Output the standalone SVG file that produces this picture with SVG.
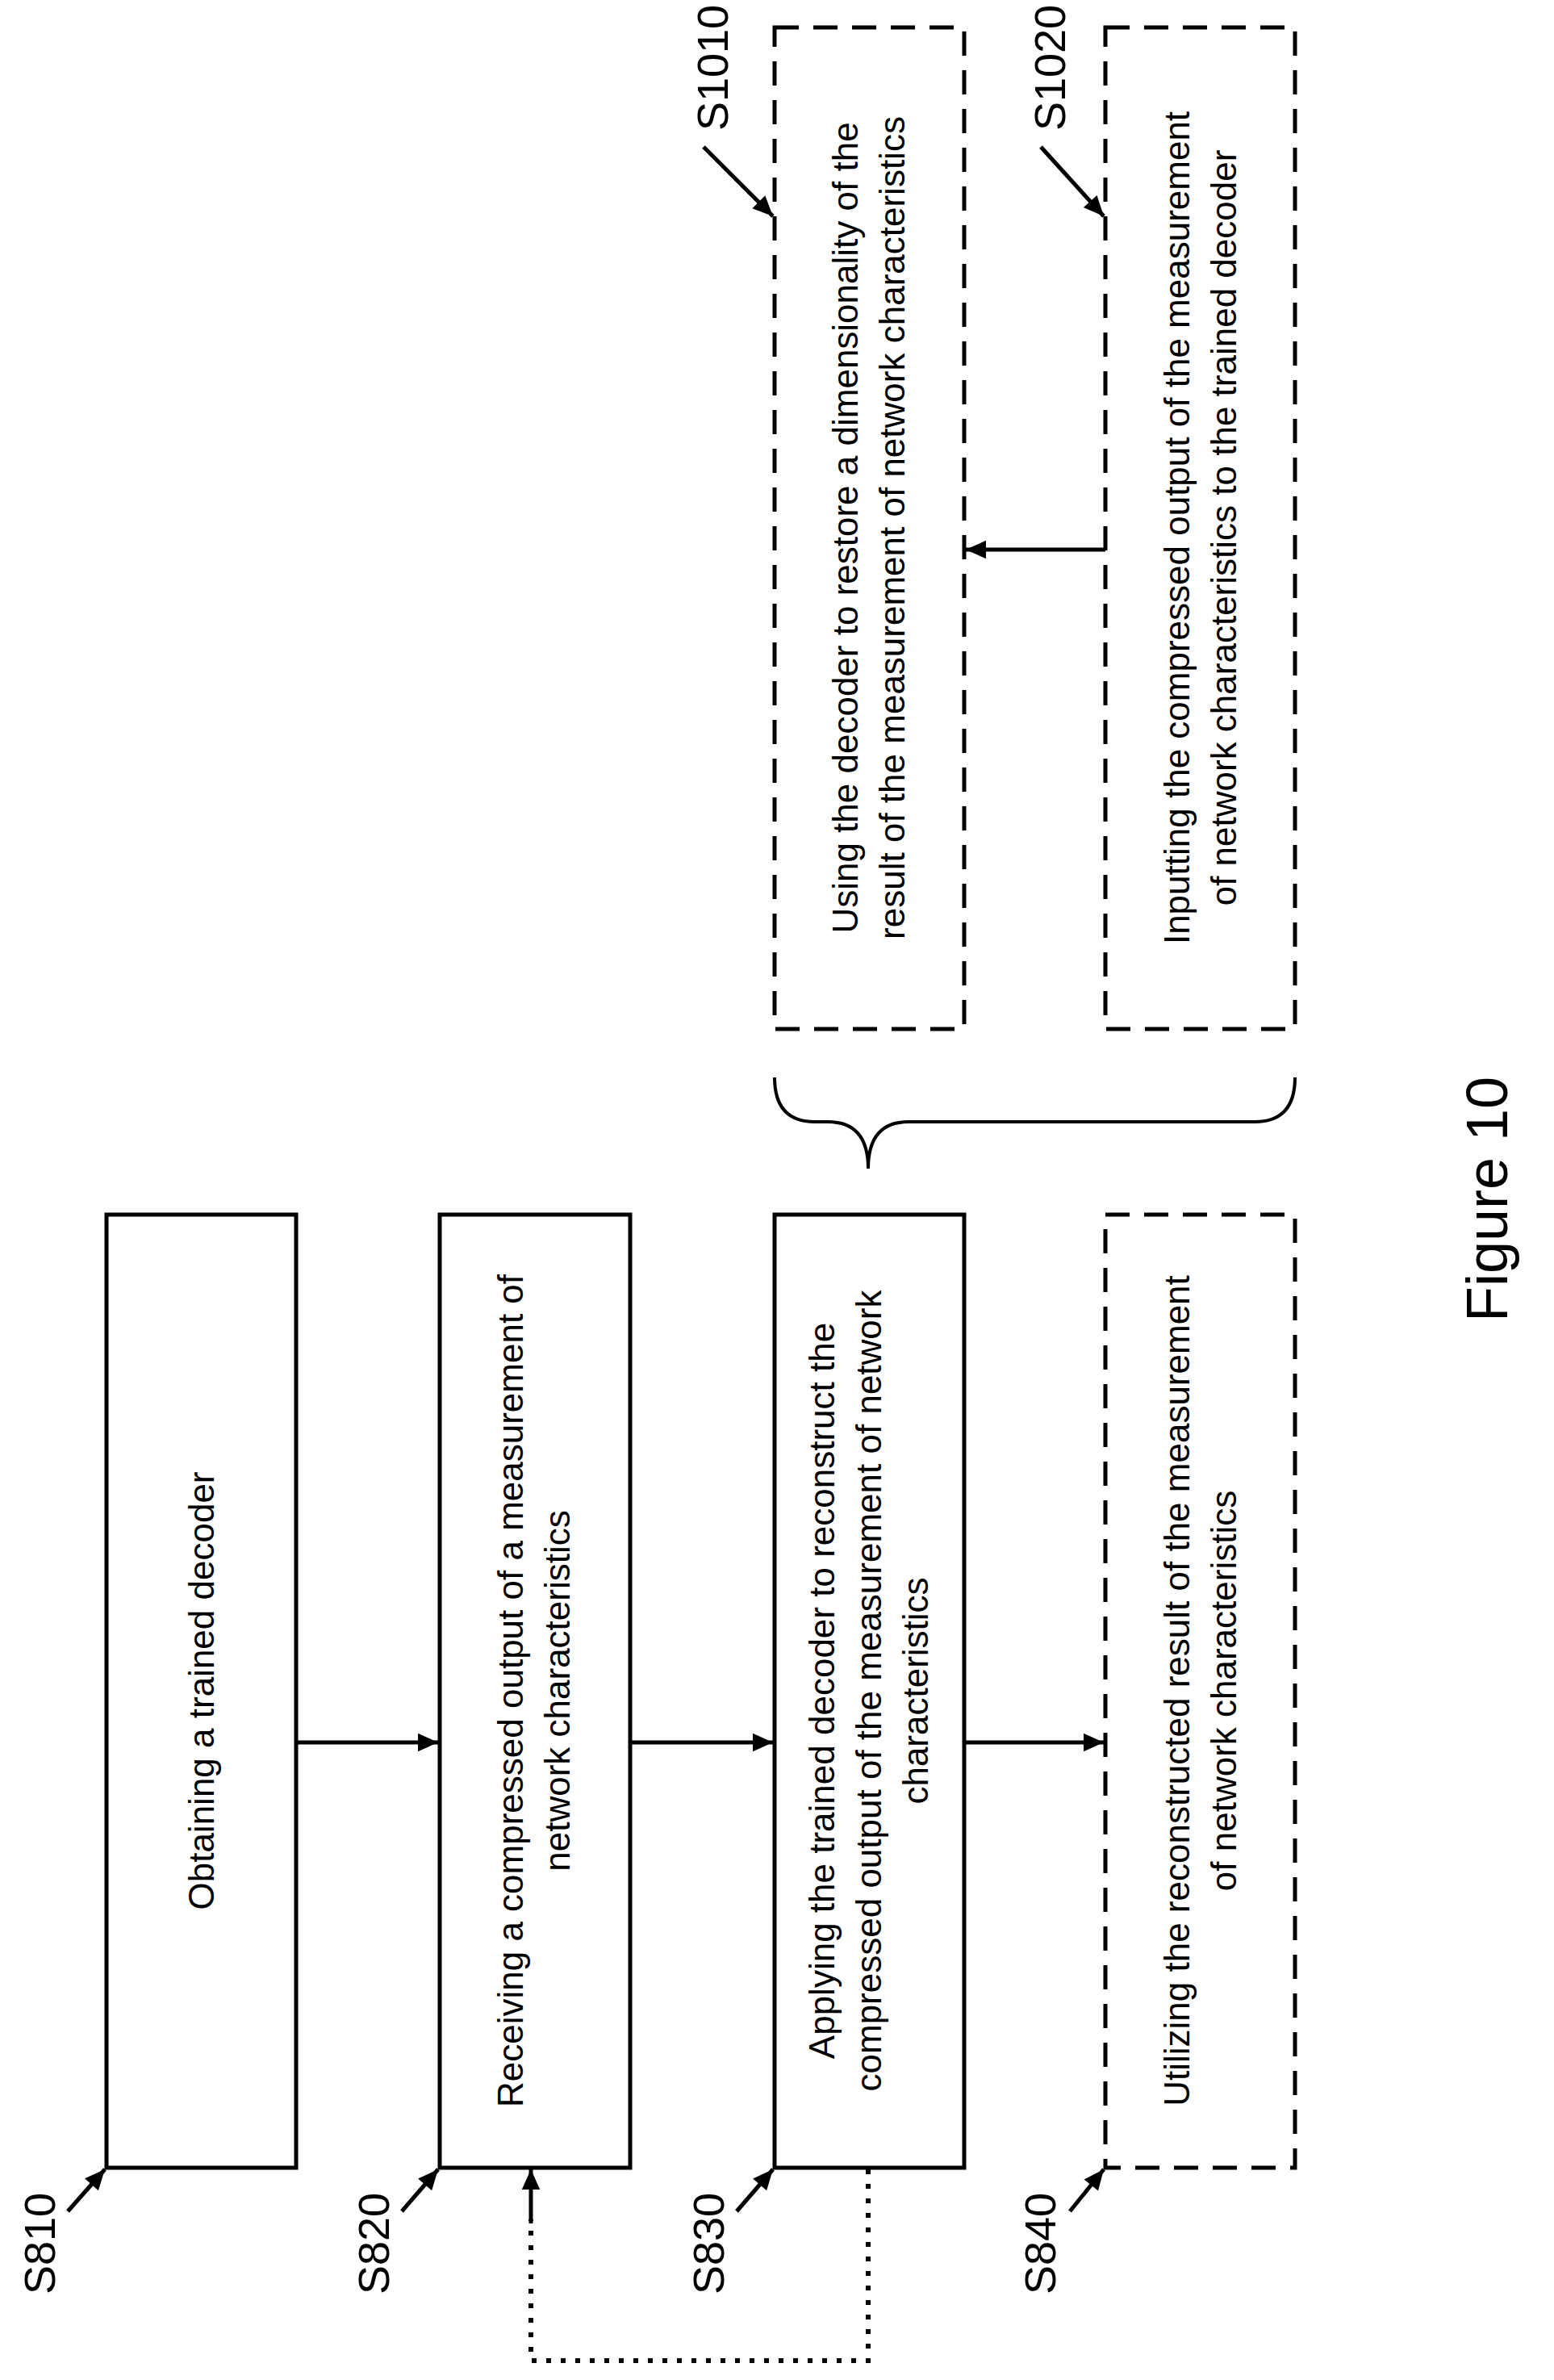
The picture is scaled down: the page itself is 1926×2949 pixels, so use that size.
<svg xmlns="http://www.w3.org/2000/svg" width="1926" height="2949" viewBox="0 0 1926 2949">
<defs>
<marker id="ah" viewBox="0 0 10 10" refX="10" refY="5" markerWidth="7" markerHeight="5" orient="auto" markerUnits="strokeWidth"><path d="M0,0.5 L10,5 L0,9.5 z" fill="#000"/></marker>
<style>
.b{fill:#fff;stroke:#000;stroke-width:5}
.d{fill:#fff;stroke:#000;stroke-width:5;stroke-dasharray:30,18}
.t{font-family:"Liberation Sans",Arial,sans-serif;font-size:44px;fill:#000;text-anchor:middle}
.s{font-size:54px}
.l{stroke:#000;stroke-width:5;fill:none;marker-end:url(#ah)}
</style>
</defs>
<g id="S810"><rect class="b" x="132" y="1505" width="235" height="1181"/>
<text class="t" transform="translate(265,2095) rotate(-90)">Obtaining a trained decoder</text></g>
<g id="S820"><rect class="b" x="545" y="1505" width="236" height="1181"/>
<text class="t" transform="translate(648,2095) rotate(-90)"><tspan x="0" y="0">Receiving a compressed output of a measurement of</tspan><tspan x="0" y="58">network characteristics</tspan></text></g>
<g id="S830"><rect class="b" x="960" y="1505" width="235" height="1181"/>
<text class="t" transform="translate(1034,2095) rotate(-90)"><tspan x="0" y="0">Applying the trained decoder to reconstruct the</tspan><tspan x="0" y="58">compressed output of the measurement of network</tspan><tspan x="0" y="116">characteristics</tspan></text></g>
<g id="S840"><rect class="d" x="1370" y="1505" width="235" height="1181"/>
<text class="t" transform="translate(1474,2095) rotate(-90)"><tspan x="0" y="0">Utilizing the reconstructed result of the measurement</tspan><tspan x="0" y="58">of network characteristics</tspan></text></g>
<g id="S1010"><rect class="d" x="960" y="34" width="235" height="1241"/>
<text class="t" transform="translate(1063,654) rotate(-90)"><tspan x="0" y="0">Using the decoder to restore a dimensionality of the</tspan><tspan x="0" y="58">result of the measurement of network characteristics</tspan></text></g>
<g id="S1020"><rect class="d" x="1370" y="34" width="235" height="1241"/>
<text class="t" transform="translate(1474,654) rotate(-90)"><tspan x="0" y="0">Inputting the compressed output of the measurement</tspan><tspan x="0" y="58">of network characteristics to the trained decoder</tspan></text></g>
<g id="labels">
<text class="t s" transform="translate(68,2780) rotate(-90)">S810</text>
<text class="t s" transform="translate(482,2780) rotate(-90)">S820</text>
<text class="t s" transform="translate(897,2780) rotate(-90)">S830</text>
<text class="t s" transform="translate(1308,2780) rotate(-90)">S840</text>
<text class="t s" transform="translate(902,84) rotate(-90)">S1010</text>
<text class="t s" transform="translate(1320,84) rotate(-90)">S1020</text>
<text class="t" style="font-size:72px" transform="translate(1868,1486) rotate(-90)">Figure 10</text>
</g>
<g id="connectors">
<line class="l" x1="367" y1="2159" x2="543" y2="2159"/>
<line class="l" x1="781" y1="2159" x2="958" y2="2159"/>
<line class="l" x1="1195" y1="2159" x2="1368" y2="2159"/>
<line class="l" x1="1370" y1="681" x2="1197" y2="681"/>
<path d="M1076,2688 V2925 H658 V2750" stroke="#000" stroke-width="6" stroke-dasharray="6,12" fill="none"/>
<path d="M658,2755 V2688" stroke="#000" stroke-width="5" fill="none" marker-end="url(#ah)"/>
<line class="l" x1="84" y1="2740" x2="130" y2="2688"/>
<line class="l" x1="498" y1="2740" x2="543" y2="2688"/>
<line class="l" x1="913" y1="2740" x2="958" y2="2688"/>
<line class="l" x1="1326" y1="2740" x2="1368" y2="2688"/>
<line class="l" x1="872" y1="182" x2="958" y2="268"/>
<line class="l" x1="1290" y1="182" x2="1368" y2="268"/>
<path d="M960,1335 Q960,1390 1010,1390 L1026,1390 Q1076,1390 1076,1448 Q1076,1390 1126,1390 L1555,1390 Q1605,1390 1605,1335" stroke="#000" stroke-width="4" fill="none"/>
</g>
</svg>
